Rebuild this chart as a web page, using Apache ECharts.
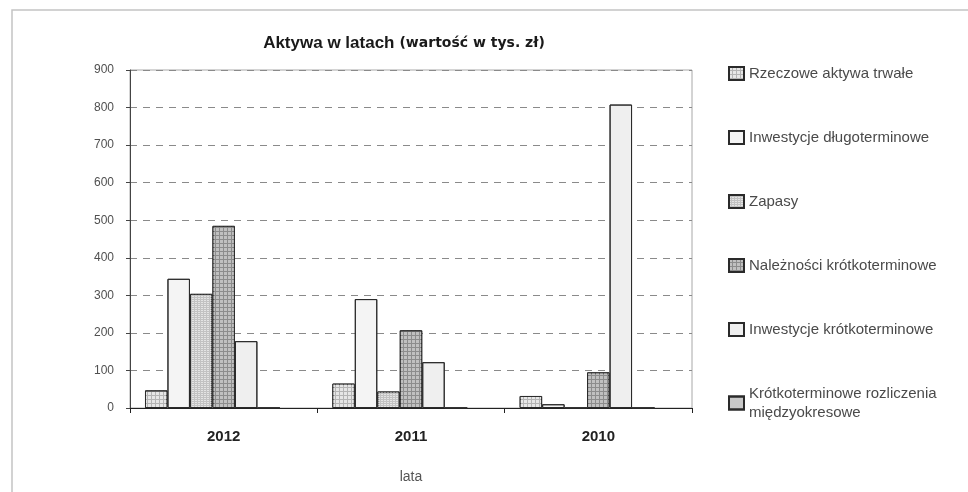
<!DOCTYPE html>
<html>
<head>
<meta charset="utf-8">
<script src="https://cdn.jsdelivr.net/npm/echarts@6/dist/echarts.min.js"></script>
<style>
  html, body { margin: 0; padding: 0; background: #fff; }
  #chart { width: 968px; height: 492px; }
</style>
</head>
<body>
<div id="chart"></div>
<script>
// Asset values in thousands of PLN, per year
const years = ['2012', '2011', '2010'];
const seriesNames = [
  'Rzeczowe aktywa trwałe',
  'Inwestycje długoterminowe',
  'Zapasy',
  'Należności krótkoterminowe',
  'Inwestycje krótkoterminowe',
  'Krótkoterminowe rozliczenia międzyokresowe'
];
const rzeczoweAktywa = [47, 65, 32];
const inwestycjeDlugo = [344, 290, 10];
const zapasy = [304, 44, 0];
const naleznosci = [485, 207, 95];
const inwestycjeKrotko = [178, 122, 808];
const rozliczenia = [0, 0, 0];
const yTicks = [0, 100, 200, 300, 400, 500, 600, 700, 800, 900];

const seriesValues = [rzeczoweAktywa, inwestycjeDlugo, zapasy, naleznosci, inwestycjeKrotko, rozliczenia];

const noDecal = { symbol: 'none' };
function grid(cell, gap, fg) {
  return { symbol: 'rect', symbolSize: 1, symbolKeepAspect: false, rotation: 0,
           dashArrayX: [cell, gap], dashArrayY: [cell, gap], color: fg };
}
// Fill colours and hatch patterns for each series
const styles = [
  { color: '#b4b4b4', decal: grid(3, 1, '#e6e6e6') },
  { color: '#f4f4f4', decal: noDecal },
  { color: '#c2c2c2', decal: { symbol: 'rect', symbolSize: 1, symbolKeepAspect: false, rotation: 0,
                               dashArrayX: [2, 1], dashArrayY: [1, 1], color: '#e4e4e4' } },
  { color: '#8c8c8c', decal: grid(3, 1, '#c0c0c0') },
  { color: '#efefef', decal: noDecal },
  { color: '#c8c8c8', decal: noDecal }
];

const series = seriesNames.map((name, i) => ({
  name: name,
  type: 'bar',
  data: seriesValues[i],
  barGap: '0%',
  barCategoryGap: '16%',
  itemStyle: {
    color: styles[i].color,
    decal: styles[i].decal,
    borderColor: '#2a2a2a',
    borderWidth: 1
  }
}));
// empty trailing slot in each year group
series.push({
  name: 'spacer',
  type: 'bar',
  data: [null, null, null],
  barGap: '0%',
  barCategoryGap: '16%',
  itemStyle: { color: 'transparent', decal: noDecal }
});

const chart = echarts.init(document.getElementById('chart'), null, { renderer: 'canvas' });
chart.setOption({
  animation: false,
  backgroundColor: '#ffffff',
  aria: { enabled: true, decal: { show: true } },
  title: {
    text: '{a|Aktywa w latach} {b|(wartość w tys. zł)}',
    left: 399,
    top: 29,
    textAlign: 'center',
    textStyle: {
      rich: {
        a: { fontFamily: 'Liberation Sans', fontSize: 17, fontWeight: 'bold', color: '#1a1a1a' },
        b: { fontFamily: 'DejaVu Sans', fontSize: 14, fontWeight: 'bold', color: '#1a1a1a' }
      }
    }
  },
  legend: {
    data: seriesNames,
    orient: 'vertical',
    left: 723,
    top: 59,
    icon: 'rect',
    itemWidth: 15,
    itemHeight: 13,
    itemGap: 45,
    selectedMode: false,
    formatter: function (n) {
      return n === 'Krótkoterminowe rozliczenia międzyokresowe'
        ? 'Krótkoterminowe rozliczenia\nmiędzyokresowe' : n;
    },
    textStyle: { fontFamily: 'Liberation Sans', fontSize: 15, color: '#4a4a4a', lineHeight: 19 }
  },
  grid: {
    left: 130, right: 276, top: 70, bottom: 84,
    show: true, borderColor: '#a8a8a8', borderWidth: 1
  },
  xAxis: {
    type: 'category',
    data: years,
    name: 'lata',
    nameLocation: 'middle',
    nameGap: 62,
    nameTextStyle: { fontFamily: 'Liberation Sans', fontSize: 14, color: '#555' },
    axisLine: { lineStyle: { color: '#222', width: 1 } },
    axisTick: { show: true, length: 5, lineStyle: { color: '#222' } },
    axisLabel: { margin: 21, fontFamily: 'Liberation Sans', fontSize: 15, fontWeight: 'bold', color: '#222' }
  },
  yAxis: {
    type: 'value',
    min: yTicks[0],
    max: yTicks[yTicks.length - 1],
    interval: 100,
    axisLine: { show: true, lineStyle: { color: '#444', width: 1 } },
    axisTick: { show: true, length: 4, lineStyle: { color: '#444' } },
    axisLabel: { margin: 16, fontFamily: 'Liberation Sans', fontSize: 12, color: '#505050' },
    splitLine: { show: true, lineStyle: { color: '#8a8a8a', type: [7, 6], width: 1 } }
  },
  graphic: [
    {
      type: 'polyline',
      shape: { points: [[12, 492], [12, 10], [968, 10]] },
      style: { stroke: '#c4c4c4', lineWidth: 1.5, fill: null }
    }
  ],
  series: series
});
</script>
</body>
</html>
